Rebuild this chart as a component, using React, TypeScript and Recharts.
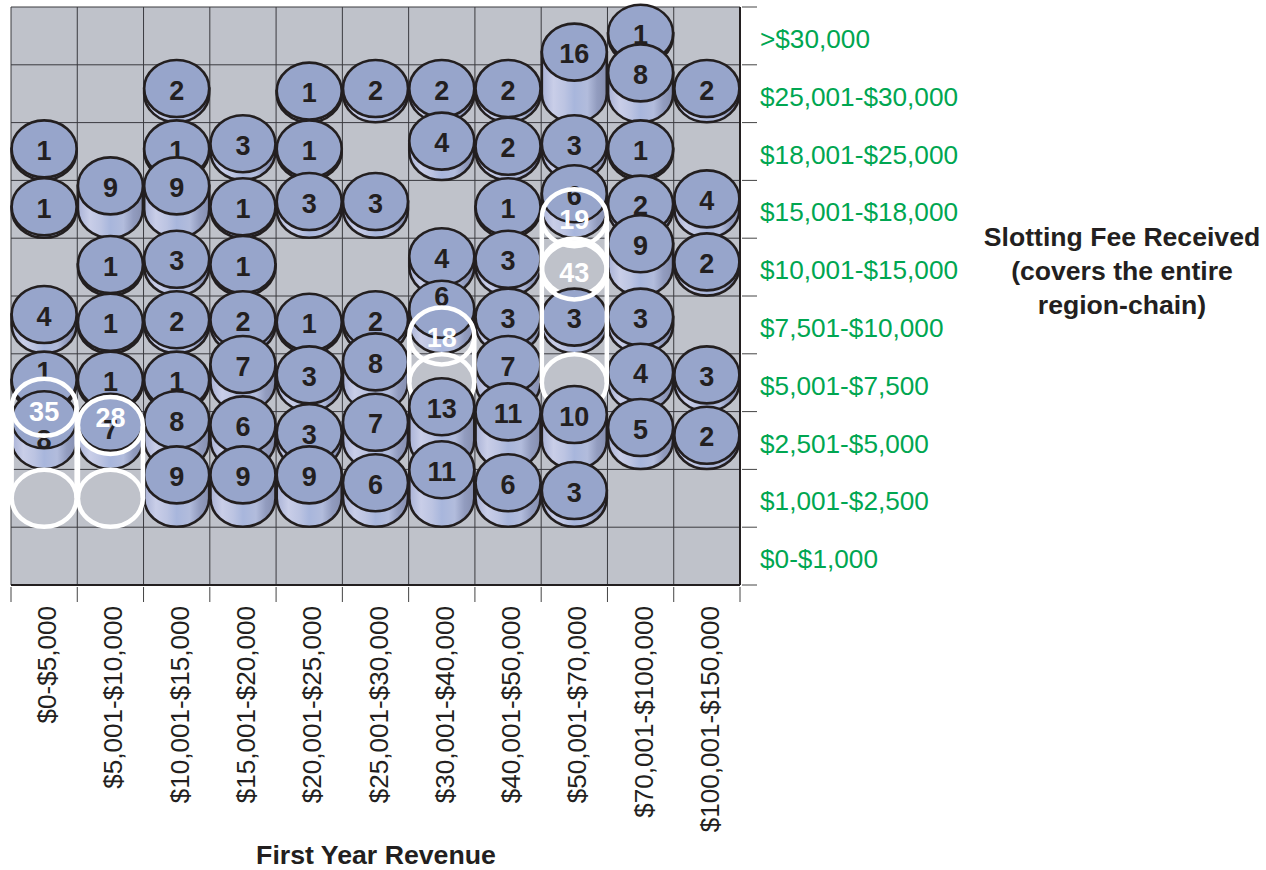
import { ScatterChart, Scatter, XAxis, YAxis, CartesianGrid } from 'recharts';

const REVENUE_BANDS = [
  '$0-$5,000', '$5,001-$10,000', '$10,001-$15,000', '$15,001-$20,000', '$20,001-$25,000', '$25,001-$30,000',
  '$30,001-$40,000', '$40,001-$50,000', '$50,001-$70,000', '$70,001-$100,000', '$100,001-$150,000',
];
const FEE_BANDS = [
  '$0-$1,000', '$1,001-$2,500', '$2,501-$5,000', '$5,001-$7,500', '$7,501-$10,000',
  '$10,001-$15,000', '$15,001-$18,000', '$18,001-$25,000', '$25,001-$30,000', '>$30,000',
];

// counts per fee band, one entry per revenue band
const COUNTS_OVER_30000 = [0, 0, 0, 0, 0, 0, 0, 0, 0, 1, 0];
const COUNTS_25001_30000 = [0, 0, 2, 0, 1, 2, 2, 2, 16, 8, 2];
const COUNTS_18001_25000 = [1, 0, 1, 3, 1, 0, 4, 2, 3, 1, 0];
const COUNTS_15001_18000 = [1, 9, 9, 1, 3, 3, 0, 1, 6, 2, 4];
const COUNTS_10001_15000 = [0, 1, 3, 1, 0, 0, 4, 3, 0, 9, 2];
const COUNTS_7501_10000 = [4, 1, 2, 2, 1, 2, 6, 3, 3, 3, 0];
const COUNTS_5001_7500 = [1, 1, 1, 7, 3, 8, 0, 7, 0, 4, 3];
const COUNTS_2501_5000 = [8, 7, 8, 6, 3, 7, 13, 11, 10, 5, 2];
const COUNTS_1001_2500 = [0, 0, 9, 9, 9, 6, 11, 6, 3, 0, 0];
const COUNTS_0_1000 = [0, 0, 0, 0, 0, 0, 0, 0, 0, 0, 0];

// the white outlined cells: [revenue band, fee band, count]
const HIGHLIGHTS = [
  [8, 5, 19],
  [6, 3, 18],
  [8, 3, 43],
  [0, 1, 35],
  [1, 1, 28],
];

const COUNT_ROWS = [
  COUNTS_0_1000, COUNTS_1001_2500, COUNTS_2501_5000, COUNTS_5001_7500, COUNTS_7501_10000,
  COUNTS_10001_15000, COUNTS_15001_18000, COUNTS_18001_25000, COUNTS_25001_30000, COUNTS_OVER_30000,
];

// upper rows first, the lower cylinders sit in front
const table: any[] = [];
for (let row = COUNT_ROWS.length - 1; row >= 0; row--) {
  COUNT_ROWS[row].forEach((count, col) => {
    if (count > 0) table.push({ x: col + 0.5, y: row + 0.5, col, row, count, white: false });
  });
  HIGHLIGHTS.filter((h) => h[1] === row).forEach(([col, r, count]) => {
    table.push({ x: col + 0.5, y: r + 0.5, col, row: r, count, white: true });
  });
}

const INK = '#231f20';
const FONT = '"Liberation Sans", Arial, sans-serif';
const RX = 32.5;
const RY = 28.5;
const DEPTH_PER_UNIT = 2.6;

// labels that sit off the top of their cylinder in the original, "col-row"
const LABEL_NUDGE: Record<string, number> = {
  '0-3': -10,
  '0-2': 18,
  '1-2': 6,
  '1-1': -10,
  '6-4': -14,
  '0-1': 3,
};

function Cylinder(props: any) {
  const { cx, cy, payload } = props;
  const depth = payload.count * DEPTH_PER_UNIT;
  const top = cy - depth;
  const labelY = top + (LABEL_NUDGE[`${payload.col}-${payload.row}`] || 0);
  const label = (
    <text
      x={cx}
      y={labelY + 2}
      textAnchor="middle"
      dominantBaseline="central"
      fontFamily={FONT}
      fontWeight="bold"
      fontSize={27}
      fill={payload.white ? '#fff' : INK}
    >
      {payload.count}
    </text>
  );
  if (payload.white) {
    return (
      <g fill="none" stroke="#fff" strokeWidth={4.5}>
        <ellipse cx={cx} cy={cy} rx={RX} ry={RY} />
        <line x1={cx - RX} y1={top} x2={cx - RX} y2={cy} />
        <line x1={cx + RX} y1={top} x2={cx + RX} y2={cy} />
        <ellipse cx={cx} cy={top} rx={RX} ry={RY} />
        <g stroke="none">{label}</g>
      </g>
    );
  }
  return (
    <g stroke={INK} strokeWidth={2.6}>
      <path
        d={`M${cx - RX},${top} L${cx - RX},${cy} A${RX},${RY} 0 0 0 ${cx + RX},${cy} L${cx + RX},${top} Z`}
        fill="url(#cylinderSide)"
      />
      <ellipse cx={cx} cy={top} rx={RX} ry={RY} fill="#97a5cb" />
      <g stroke="none">{label}</g>
    </g>
  );
}

function RevenueTick(props: any) {
  const { x, y, payload } = props;
  const v = payload.value;
  if (Number.isInteger(v)) {
    return <line x1={x} y1={y} x2={x} y2={y + 15} stroke="#444" strokeWidth={1} />;
  }
  const ty = y + 19;
  return (
    <text
      x={x + 3}
      y={ty}
      transform={`rotate(-90 ${x + 3} ${ty})`}
      textAnchor="end"
      dominantBaseline="central"
      fontFamily={FONT}
      fontSize={26.1}
      fill={INK}
    >
      {REVENUE_BANDS[Math.floor(v)]}
    </text>
  );
}

function FeeTick(props: any) {
  const { x, y, payload } = props;
  const v = payload.value;
  if (Number.isInteger(v)) {
    return <line x1={x} y1={y} x2={x + 15} y2={y} stroke="#444" strokeWidth={1} />;
  }
  return (
    <text x={x + 18} y={y + 3} dominantBaseline="central" fontFamily={FONT} fontSize={26.2} fill="#00a651">
      {FEE_BANDS[Math.floor(v)]}
    </text>
  );
}

const xTicks = Array.from({ length: REVENUE_BANDS.length * 2 + 1 }, (_, i) => i / 2);
const yTicks = Array.from({ length: FEE_BANDS.length * 2 + 1 }, (_, i) => i / 2);
const xLines = xTicks.filter(Number.isInteger);
const yLines = yTicks.filter(Number.isInteger);

export default function App() {
  return (
    <div style={{ position: 'absolute', left: 0, top: 0, width: 1266, height: 870, background: '#fff' }}>
      <ScatterChart width={1266} height={870} margin={{ top: 7, right: 0, bottom: 0, left: 11 }}>
        <defs>
          <linearGradient id="cylinderSide" x1="0" y1="0" x2="1" y2="0">
            <stop offset="0%" stopColor="#a9b2d6" />
            <stop offset="18%" stopColor="#c9cee8" />
            <stop offset="35%" stopColor="#bcc4e2" />
            <stop offset="50%" stopColor="#a8b6dc" />
            <stop offset="70%" stopColor="#b2bcdc" />
            <stop offset="85%" stopColor="#929cbf" />
            <stop offset="100%" stopColor="#868fb0" />
          </linearGradient>
        </defs>
        <CartesianGrid
          fill="#bfc2ca"
          stroke="#3a3a3f"
          strokeWidth={1}
          verticalValues={xLines}
          horizontalValues={yLines}
        />
        <XAxis
          type="number"
          dataKey="x"
          domain={[0, REVENUE_BANDS.length]}
          ticks={xTicks}
          interval={0}
          height={285}
          tickSize={0}
          tickLine={false}
          axisLine={{ stroke: INK, strokeWidth: 2 }}
          tick={<RevenueTick />}
        />
        <YAxis
          type="number"
          dataKey="y"
          orientation="right"
          domain={[0, FEE_BANDS.length]}
          ticks={yTicks}
          interval={0}
          width={526}
          tickSize={0}
          tickLine={false}
          axisLine={{ stroke: INK, strokeWidth: 2 }}
          tick={<FeeTick />}
        />
        <Scatter data={table} isAnimationActive={false} shape={<Cylinder />} />
        <text x={376} y={864} textAnchor="middle" fontFamily={FONT} fontWeight="bold" fontSize={26.7} fill={INK}>
          First Year Revenue
        </text>
        <g textAnchor="middle" fontFamily={FONT} fontWeight="bold" fontSize={26.6} fill={INK}>
          <text x={1122} y={246}>Slotting Fee Received</text>
          <text x={1122} y={280}>(covers the entire</text>
          <text x={1122} y={314}>region-chain)</text>
        </g>
      </ScatterChart>
    </div>
  );
}
